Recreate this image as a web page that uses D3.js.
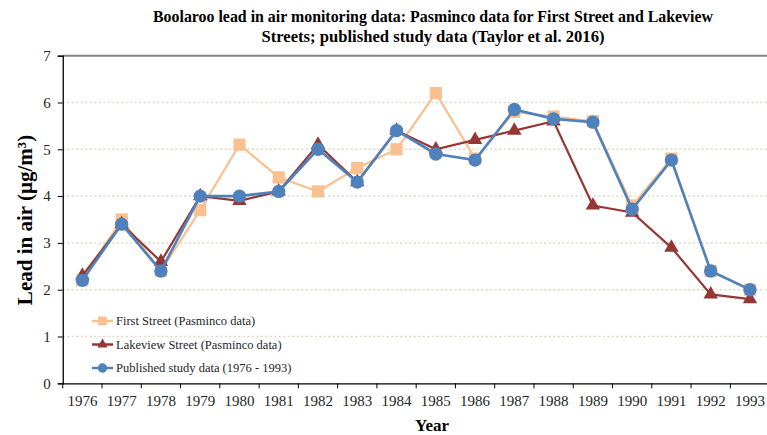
<!DOCTYPE html>
<html>
<head>
<meta charset="utf-8">
<script src="https://cdn.jsdelivr.net/npm/d3@7"></script>
<style>
  html, body { margin: 0; padding: 0; background: #fff; }
  svg { display: block; }
</style>
</head>
<body>
<svg id="chart" width="767" height="435"></svg>
<script>
const years = ["1976","1977","1978","1979","1980","1981","1982","1983","1984","1985","1986","1987","1988","1989","1990","1991","1992","1993"];
const firstStreet = [2.2, 3.5, 2.4, 3.7, 5.1, 4.4, 4.1, 4.6, 5.0, 6.2, 4.8, 5.8, 5.7, 5.6, 3.8, 4.8, 2.4, 2.0];
const lakeviewStreet = [2.3, 3.4, 2.6, 4.0, 3.9, 4.1, 5.1, 4.3, 5.4, 5.0, 5.2, 5.4, 5.6, 3.8, 3.65, 2.9, 1.9, 1.8];
const publishedStudy = [2.2, 3.4, 2.4, 4.0, 4.0, 4.1, 5.0, 4.3, 5.4, 4.9, 4.77, 5.85, 5.65, 5.58, 3.72, 4.77, 2.4, 2.0];
const yTicks = [0, 1, 2, 3, 4, 5, 6, 7];
const seriesNames = ["First Street (Pasminco data)", "Lakeview Street (Pasminco data)", "Published study data (1976 - 1993)"];
const titleLines = ["Boolaroo lead in air monitoring data: Pasminco data for First Street and Lakeview", "Streets; published study data (Taylor et al. 2016)"];

const series = [
  { name: seriesNames[0], values: firstStreet, color: "#FAC090", symbol: d3.symbolSquare, size: 150, width: 2.2 },
  { name: seriesNames[1], values: lakeviewStreet, color: "#953735", symbol: d3.symbolTriangle, size: 90, width: 2.2 },
  { name: seriesNames[2], values: publishedStudy, color: "#4F81BD", symbol: d3.symbolCircle, size: 140, width: 2.6 }
];

const svg = d3.select("#chart");
const serif = "'Liberation Serif', 'Times New Roman', serif";

const x = d3.scaleBand().domain(years).range([62.75, 769.6]);
const y = d3.scaleLinear().domain([0, 7]).range([383.3, 55.7]);

// title
svg.append("g").selectAll("text").data(titleLines).join("text")
  .attr("x", 433).attr("y", (d, i) => 22 + i * 20)
  .attr("text-anchor", "middle")
  .attr("font-family", serif).attr("font-weight", "bold").attr("font-size", 16)
  .attr("textLength", (d, i) => i === 0 ? 560 : 343)
  .attr("lengthAdjust", "spacingAndGlyphs")
  .attr("fill", "#000")
  .text(d => d);

// gridlines
svg.append("g").selectAll("line").data(yTicks.filter(t => t > 0 && t < 7)).join("line")
  .attr("x1", x.range()[0]).attr("x2", x.range()[1])
  .attr("y1", d => y(d)).attr("y2", d => y(d))
  .attr("stroke", "#DDD9C3").attr("stroke-width", 1.5).attr("stroke-dasharray", "2,2.5");
svg.append("line")
  .attr("x1", x.range()[0]).attr("x2", x.range()[1])
  .attr("y1", y(7)).attr("y2", y(7))
  .attr("stroke", "#868686").attr("stroke-width", 2);

// y axis
const yAxis = svg.append("g").attr("transform", `translate(${x.range()[0]},0)`)
  .call(d3.axisLeft(y).tickValues(yTicks).tickSize(5).tickPadding(7).tickFormat(d3.format("d")));
yAxis.select(".domain").attr("stroke", "#000").attr("stroke-width", 1.3);
yAxis.selectAll(".tick line").attr("stroke", "#000").attr("stroke-width", 1);
yAxis.selectAll("text").attr("font-family", serif).attr("font-size", 15).attr("fill", "#262626");

// x axis
const xAxis = svg.append("g").attr("transform", `translate(0,${y(0)})`)
  .call(d3.axisBottom(x).tickSize(0).tickPadding(12));
xAxis.select(".domain").attr("stroke", "#000").attr("stroke-width", 1.3);
xAxis.selectAll("text").attr("font-family", serif).attr("font-size", 15).attr("fill", "#262626");
// boundary ticks
const bounds = years.map(d => x(d)).concat([x.range()[1]]);
svg.append("g").selectAll("line").data(bounds).join("line")
  .attr("x1", d => d).attr("x2", d => d)
  .attr("y1", y(0)).attr("y2", y(0) + 5)
  .attr("stroke", "#000").attr("stroke-width", 1);

// axis titles
svg.append("text").attr("x", 432).attr("y", 431)
  .attr("text-anchor", "middle").attr("font-family", serif).attr("font-weight", "bold").attr("font-size", 17)
  .text("Year");
svg.append("text").attr("transform", "translate(32,220) rotate(-90)")
  .attr("text-anchor", "middle").attr("font-family", serif).attr("font-weight", "bold").attr("font-size", 21)
  .text("Lead in air (µg/m³)");

// series
const cx = d => x(d) + x.bandwidth() / 2;
const line = d3.line().x((v, i) => cx(years[i])).y(v => y(v));
series.forEach(s => {
  const g = svg.append("g");
  g.append("path").datum(s.values).attr("d", line)
    .attr("fill", "none").attr("stroke", s.color).attr("stroke-width", s.width);
  g.selectAll("path.pt").data(s.values).join("path").attr("class", "pt")
    .attr("transform", (v, i) => `translate(${cx(years[i])},${y(v)})`)
    .attr("d", d3.symbol().type(s.symbol).size(s.size))
    .attr("fill", s.color);
});

// legend
const legend = svg.append("g");
series.forEach((s, i) => {
  const ly = 321 + i * 23.5;
  legend.append("line").attr("x1", 92).attr("x2", 113).attr("y1", ly).attr("y2", ly)
    .attr("stroke", s.color).attr("stroke-width", 2.5);
  legend.append("path").attr("transform", `translate(102.5,${ly})`)
    .attr("d", d3.symbol().type(s.symbol).size(s.size * 0.5)).attr("fill", s.color);
  legend.append("text").attr("x", 116).attr("y", ly + 4)
    .attr("font-family", serif).attr("font-size", 12.5).attr("fill", "#262626")
    .text(s.name);
});
</script>
</body>
</html>
